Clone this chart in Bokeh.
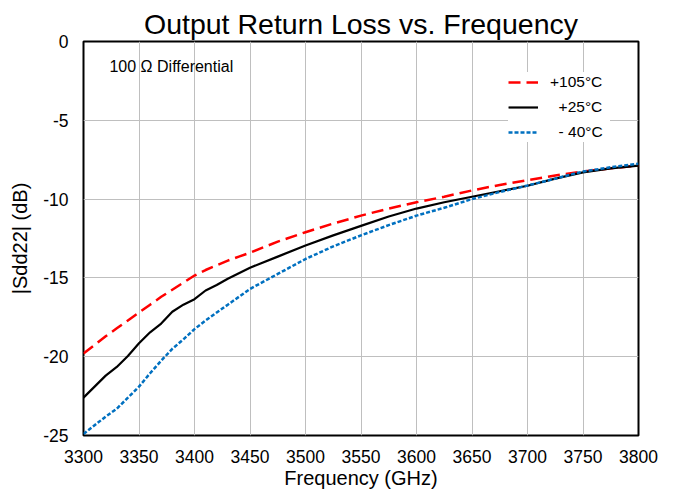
from bokeh.plotting import figure
from bokeh.models import Legend, LegendItem, Label, FixedTicker, Range1d, CustomJSTickFormatter
from bokeh.embed import file_html
from bokeh.resources import INLINE

# ---- data ----
freq = [3300, 3310, 3320, 3330, 3340, 3350, 3360, 3370, 3380, 3390, 3400,
        3410, 3420, 3430, 3440, 3450, 3475, 3500, 3525, 3550, 3575, 3600,
        3625, 3650, 3675, 3700, 3725, 3750, 3775, 3800]
sdd22_p105 = [-19.8, -19.25, -18.7, -18.2, -17.7, -17.2, -16.7, -16.2, -15.75, -15.3, -14.85,
              -14.5, -14.2, -13.9, -13.65, -13.4, -12.7, -12.1, -11.55, -11.05, -10.6, -10.2,
              -9.85, -9.45, -9.1, -8.8, -8.5, -8.25, -8.05, -7.87]
sdd22_p25 = [-22.6, -21.9, -21.2, -20.65, -19.95, -19.15, -18.45, -17.9, -17.15, -16.7, -16.35,
             -15.8, -15.45, -15.05, -14.7, -14.35, -13.65, -12.95, -12.3, -11.7, -11.1, -10.6,
             -10.2, -9.85, -9.5, -9.15, -8.7, -8.3, -8.05, -7.87]
sdd22_m40 = [-24.9, -24.35, -23.8, -23.3, -22.6, -21.9, -21.05, -20.25, -19.5, -18.9, -18.25,
             -17.7, -17.2, -16.7, -16.2, -15.7, -14.75, -13.8, -13.0, -12.3, -11.65, -11.05,
             -10.55, -10.0, -9.55, -9.14, -8.7, -8.25, -7.98, -7.76]
x_ticks = [3300, 3350, 3400, 3450, 3500, 3550, 3600, 3650, 3700, 3750, 3800]
y_ticks = [-25, -20, -15, -10, -5, 0]
series_labels = ["+105°C", "\u00a0\u00a0+25°C", "\u00a0\u00a0- 40°C"]

FONT = "Liberation Sans"

p = figure(width=675, height=492, x_range=Range1d(3300, 3800), y_range=Range1d(-25, 0),
           output_backend="svg", toolbar_location=None,
           min_border_left=83, min_border_right=37, min_border_top=41, min_border_bottom=57,
           title="Output Return Loss vs. Frequency")

p.title.text_font = FONT
p.title.text_font_size = "28.5px"
p.title.text_font_style = "normal"
p.title.text_color = "black"
p.title.align = "center"
p.title.standoff = 3

p.background_fill_color = "white"
p.border_fill_color = "white"
p.outline_line_color = "black"
p.outline_line_width = 2
p.outline_line_alpha = 1

for ax in (p.xaxis[0], p.yaxis[0]):
    ax.axis_line_color = None
    ax.major_tick_line_color = None
    ax.minor_tick_line_color = None
    ax.major_tick_out = 0
    ax.major_tick_in = 0
    ax.minor_tick_out = 0
    ax.minor_tick_in = 0
    ax.major_label_text_font = FONT
    ax.major_label_text_font_size = "17.5px"
    ax.major_label_text_color = "black"
    ax.axis_label_text_font = FONT
    ax.axis_label_text_font_size = "20px"
    ax.axis_label_text_font_style = "normal"
    ax.axis_label_text_color = "black"

p.xaxis.ticker = FixedTicker(ticks=x_ticks)
p.yaxis.ticker = FixedTicker(ticks=y_ticks)
p.yaxis.formatter = CustomJSTickFormatter(code="return tick.toString();")
p.xaxis.axis_label = "Frequency (GHz)"
p.yaxis.axis_label = "|Sdd22| (dB)"
p.xaxis.major_label_standoff = 14
p.xaxis.axis_label_standoff = 1
p.yaxis.major_label_standoff = 15
p.yaxis.axis_label_standoff = 9

p.grid.grid_line_color = "#BFBFBF"
p.grid.grid_line_width = 1

r1 = p.line(freq, sdd22_p105, line_color="#FF0000", line_width=2.5, line_dash="12 6")
r2 = p.line(freq, sdd22_p25, line_color="black", line_width=2.2)
r3 = p.line(freq, sdd22_m40, line_color="#0070C0", line_width=2.5, line_dash="4 2")

legend = Legend(items=[LegendItem(label=series_labels[0], renderers=[r1]),
                       LegendItem(label=series_labels[1], renderers=[r2]),
                       LegendItem(label=series_labels[2], renderers=[r3])],
                location=(425, 293),
                label_text_font=FONT, label_text_font_size="15.5px", label_text_color="black",
                glyph_width=30, glyph_height=20, label_height=20, spacing=5, padding=8,
                label_standoff=12, label_width=60,
                border_line_color=None, background_fill_color="white", background_fill_alpha=1)
p.add_layout(legend)

p.add_layout(Label(x=3323.4, y=-1.57, text="100 Ω Differential", text_font=FONT,
                   text_font_size="16px", text_color="black", text_baseline="alphabetic"))

open("out.html", "w").write(file_html(p, INLINE))
